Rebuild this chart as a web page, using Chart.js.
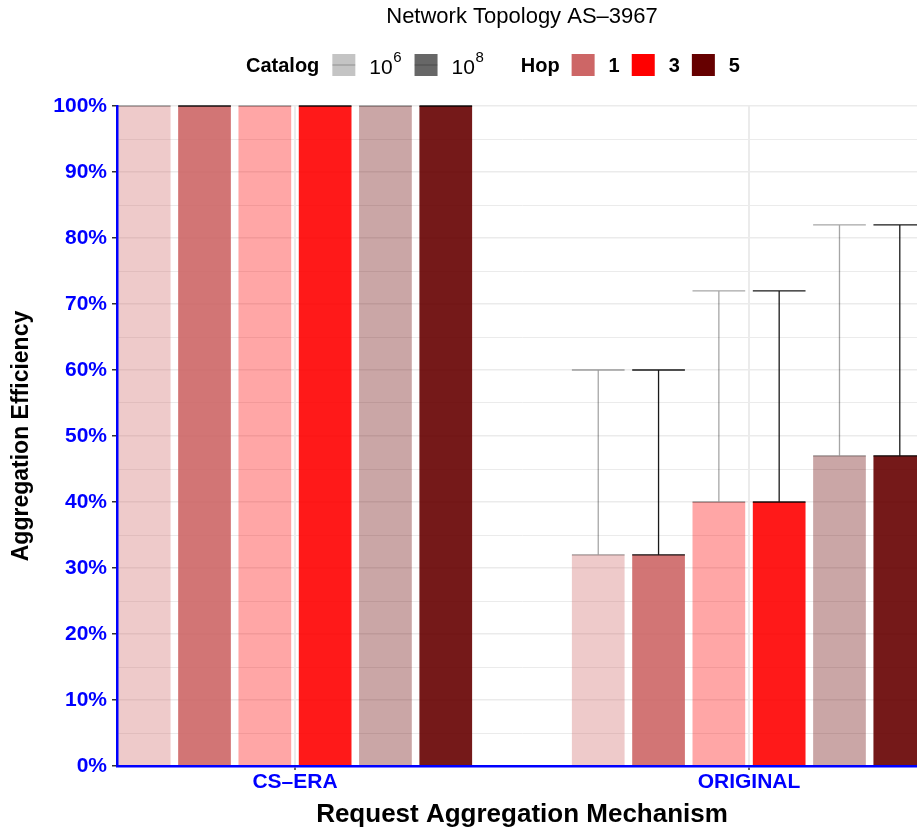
<!DOCTYPE html>
<html>
<head>
<meta charset="utf-8">
<script src="https://cdn.jsdelivr.net/npm/chart.js@4.4.0/dist/chart.umd.min.js"></script>
<style>
  html, body { margin: 0; padding: 0; background: #fff; overflow: hidden; }
  #wrap { width: 935px; height: 833px; }
</style>
</head>
<body>
<div id="wrap"><canvas id="chart"></canvas></div>
<script>
// data
var mechanisms = ["CS\u2013ERA", "ORIGINAL"];
var hops = ["1", "3", "5"];
var catalogs = ["6", "8"]; // catalog size 10^6 and 10^8
var hop1 = [100, 32];
var hop3 = [100, 40];
var hop5 = [100, 47];
var hop1Upper = [100, 60];
var hop3Upper = [100, 72];
var hop5Upper = [100, 82];

// styles
var FONT = "'Liberation Sans', Arial, sans-serif";
var hopRgb = ["205,102,102", "255,0,0", "102,0,0"];
var catalogAlpha = [0.35, 0.9];
var catalogKey = ["#c4c4c4", "#676767"];

var hopMeans = [hop1, hop3, hop5];
var hopUppers = [hop1Upper, hop3Upper, hop5Upper];

var datasets = [];
hops.forEach(function (h, i) {
  catalogs.forEach(function (c, j) {
    datasets.push({
      label: "Hop " + h + ", 10^" + c,
      data: mechanisms.map(function (m, k) { return { x: k, y: hopMeans[i][k] }; }),
      upper: hopUppers[i],
      errorColor: "rgba(0,0,0," + catalogAlpha[j] + ")",
      backgroundColor: "rgba(" + hopRgb[i] + "," + catalogAlpha[j] + ")",
      borderWidth: 0,
    });
  });
});

var errorBars = {
  id: "errorBars",
  afterDatasetsDraw: function (chart) {
    var ctx = chart.ctx;
    var yScale = chart.scales.y;
    chart.data.datasets.forEach(function (ds, i) {
      chart.getDatasetMeta(i).data.forEach(function (bar, k) {
        var top = yScale.getPixelForValue(ds.upper[k]);
        var half = bar.width / 2;
        ctx.save();
        ctx.strokeStyle = ds.errorColor;
        ctx.lineWidth = 1.3;
        ctx.beginPath();
        ctx.moveTo(bar.x, bar.y);
        ctx.lineTo(bar.x, top);
        ctx.moveTo(bar.x - half, top);
        ctx.lineTo(bar.x + half, top);
        ctx.moveTo(bar.x - half, bar.y);
        ctx.lineTo(bar.x + half, bar.y);
        ctx.stroke();
        ctx.restore();
      });
    });
  },
};

var header = {
  id: "header",
  afterDraw: function (chart) {
    var ctx = chart.ctx;
    var area = chart.chartArea;
    ctx.save();
    ctx.fillStyle = "#000";
    ctx.textBaseline = "middle";
    ctx.textAlign = "center";
    ctx.font = "22px " + FONT;
    ctx.fillText("Network Topology AS\u20133967", (area.left + area.right) / 2, 17);

    var cy = 65;
    var sw = 23;
    var x = 246;
    ctx.textAlign = "left";
    ctx.font = "bold 20px " + FONT;
    ctx.fillText("Catalog", x, cy + 1);
    x += ctx.measureText("Catalog").width + 13;
    catalogs.forEach(function (c, j) {
      ctx.fillStyle = catalogKey[j];
      ctx.fillRect(x, cy - 11, sw, 22);
      ctx.strokeStyle = "rgba(0,0,0,0.2)";
      ctx.lineWidth = 1.3;
      ctx.beginPath();
      ctx.moveTo(x, cy);
      ctx.lineTo(x + sw, cy);
      ctx.stroke();
      x += sw + 14;
      ctx.fillStyle = "#000";
      ctx.font = "21px " + FONT;
      ctx.fillText("10", x, cy + 3);
      x += ctx.measureText("10").width + 0.5;
      ctx.font = "15px " + FONT;
      ctx.fillText(c, x, cy - 7);
      x += ctx.measureText(c).width + 13;
    });
    x += 24;
    ctx.font = "bold 20px " + FONT;
    ctx.fillText("Hop", x, cy + 1);
    x += ctx.measureText("Hop").width + 12;
    hops.forEach(function (h, i) {
      ctx.fillStyle = "rgb(" + hopRgb[i] + ")";
      ctx.fillRect(x, cy - 11, sw, 22);
      x += sw + 14;
      ctx.fillStyle = "#000";
      ctx.font = "bold 20px " + FONT;
      ctx.fillText(h, x, cy + 1);
      x += ctx.measureText(h).width + 12;
    });
    ctx.restore();
  },
};

var major = function (c) { return c.tick && c.tick.value % 10 === 0; };

var ctx = document.getElementById("chart").getContext("2d");
var chart = new Chart(ctx, {
  type: "bar",
  data: { datasets: datasets },
  options: {
    responsive: true,
    maintainAspectRatio: false,
    animation: false,
    categoryPercentage: 0.797,
    barPercentage: 0.874,
    layout: { padding: { left: 0, right: 8, top: 106, bottom: 0 } },
    scales: {
      x: {
        type: "linear",
        min: -0.392,
        max: 1.392,
        offset: false,
        afterBuildTicks: function (scale) {
          scale.ticks = mechanisms.map(function (m, i) { return { value: i }; });
        },
        afterFit: function (scale) { scale.height = 67; },
        ticks: {
          autoSkip: false,
          maxRotation: 0,
          padding: 0,
          color: "#0000ff",
          font: { family: FONT, size: 21, weight: "bold" },
          callback: function (v) { return mechanisms[v]; },
        },
        grid: { offset: false, color: "#ebebeb", lineWidth: 2, tickLength: 4, tickColor: "#333", tickWidth: 1.5 },
        border: { color: "#0000ff", width: 2.5, z: 1 },
        title: {
          display: true,
          text: "Request Aggregation Mechanism",
          color: "#000",
          font: { family: FONT, size: 26, weight: "bold" },
          padding: { top: 0, bottom: 3 },
        },
      },
      y: {
        min: 0,
        max: 100,
        afterFit: function (scale) { scale.width = 117; },
        ticks: {
          stepSize: 5,
          autoSkip: false,
          padding: 5,
          color: "#0000ff",
          font: { family: FONT, size: 21, weight: "bold" },
          callback: function (v) { return v % 10 === 0 ? v + "%" : ""; },
        },
        grid: {
          color: "#ebebeb",
          lineWidth: function (c) { return major(c) ? 1.5 : 1; },
          tickLength: 5,
          tickWidth: 1.5,
          tickColor: function (c) { return major(c) ? "#333" : "rgba(0,0,0,0)"; },
        },
        border: { color: "#0000ff", width: 2.5, z: 1 },
        title: {
          display: true,
          text: "Aggregation Efficiency",
          color: "#000",
          font: { family: FONT, size: 23, weight: "bold" },
          padding: { top: 8, bottom: 0 },
        },
      },
    },
    plugins: {
      legend: { display: false },
      tooltip: { enabled: false },
    },
  },
  plugins: [errorBars, header],
});
</script>
</body>
</html>
